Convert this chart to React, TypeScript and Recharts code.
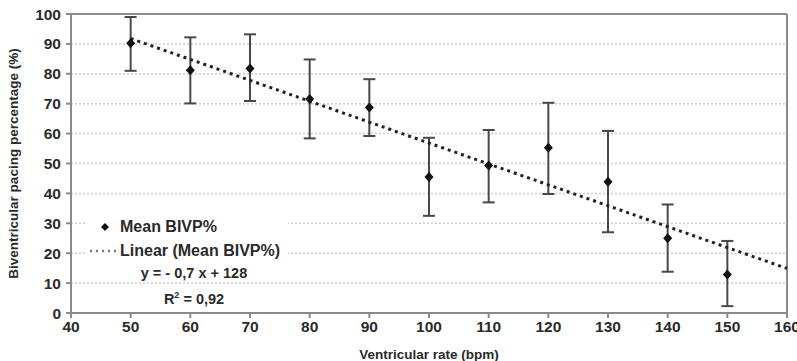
import React from 'react';
import { ComposedChart, Scatter, ErrorBar, XAxis, YAxis, CartesianGrid, ReferenceLine, Label } from 'recharts';

const rates = [50, 60, 70, 80, 90, 100, 110, 120, 130, 140, 150];
const meanBivp = [90.2, 81.2, 81.8, 71.6, 68.7, 45.5, 49.3, 55.3, 43.9, 25, 12.9];
const lowerBound = [81, 70.1, 70.9, 58.4, 59.2, 32.5, 37, 39.8, 27, 13.8, 2.3];
const upperBound = [99, 92.2, 93.2, 84.8, 78.2, 58.6, 61.2, 70.3, 60.9, 36.3, 24.1];

// trend line endpoints
const trendRates = [50, 160];
const trendValues = [91.8, 14.9];

const xTicks = [40, 50, 60, 70, 80, 90, 100, 110, 120, 130, 140, 150, 160];
const yTicks = [0, 10, 20, 30, 40, 50, 60, 70, 80, 90, 100];

const points = rates.map((r, i) => ({
    rate: r,
    mean: meanBivp[i],
    err: [meanBivp[i] - lowerBound[i], upperBound[i] - meanBivp[i]],
}));
const trend = trendRates.map((r, i) => ({ rate: r, mean: trendValues[i] }));

const FONT = '"Liberation Sans", Arial, sans-serif';
const AXIS = '#8a8a8a';
const TEXT = '#2a2a2a';

const Diamond = (props: any) => {
    const { cx, cy } = props;
    if (cx == null || cy == null) return <g />;
    return <polygon points={`${cx},${cy - 5} ${cx + 4.5},${cy} ${cx},${cy + 5} ${cx - 4.5},${cy}`} fill="#111" />;
};

const tickStyle = { fontSize: 15.5, fontWeight: 700, fill: TEXT, fontFamily: FONT };

export default function App() {
    return (
        <div style={{ position: 'absolute', left: 0, top: 0, width: 797, height: 361, background: '#fff', fontFamily: FONT }}>
            <ComposedChart width={797} height={361} margin={{ top: 14, right: 10, left: 11, bottom: 0 }}>
                <CartesianGrid vertical={false} stroke="#cccccc" strokeDasharray="2 2" strokeWidth={1.5} />
                <XAxis
                    dataKey="rate"
                    type="number"
                    domain={[40, 160]}
                    ticks={xTicks}
                    interval={0}
                    height={48}
                    stroke={AXIS}
                    strokeWidth={2}
                    tickSize={5}
                    tickMargin={3}
                    tick={tickStyle}
                >
                    <Label value="Ventricular rate (bpm)" position="insideBottom" offset={2} style={{ fontSize: 13.5, fontWeight: 700, fill: TEXT, fontFamily: FONT }} />
                </XAxis>
                <YAxis
                    dataKey="mean"
                    type="number"
                    domain={[0, 100]}
                    ticks={yTicks}
                    interval={0}
                    width={60}
                    stroke={AXIS}
                    strokeWidth={2}
                    tickSize={5}
                    tickMargin={5}
                    tick={tickStyle}
                >
                    <Label value="Biventricular pacing percentage (%)" angle={-90} position="insideLeft" offset={2} style={{ textAnchor: 'middle', fontSize: 13.5, fontWeight: 700, fill: TEXT, fontFamily: FONT }} />
                </YAxis>
                <ReferenceLine y={100} stroke={AXIS} strokeWidth={2} />
                <ReferenceLine x={160} stroke={AXIS} strokeWidth={2} />
                <Scatter
                    data={trend}
                    line={{ stroke: '#222', strokeWidth: 3, strokeDasharray: '3 4' }}
                    shape={() => <g />}
                    isAnimationActive={false}
                />
                <Scatter data={points} shape={<Diamond />} isAnimationActive={false}>
                    <ErrorBar dataKey="err" direction="y" width={6} stroke="#484848" strokeWidth={2} />
                </Scatter>
            </ComposedChart>
            <div style={{ position: 'absolute', left: 86, top: 216, width: 202, height: 46, background: '#fff' }}>
                <div style={{ position: 'absolute', left: 14, top: 2, display: 'flex', alignItems: 'center' }}>
                    <svg width={10} height={10}><polygon points="5,1 9,5 5,9 1,5" fill="#111" /></svg>
                    <span style={{ marginLeft: 10, fontSize: 16, fontWeight: 700, color: TEXT }}>Mean BIVP%</span>
                </div>
                <div style={{ position: 'absolute', left: 4, top: 26, display: 'flex', alignItems: 'center' }}>
                    <svg width={26} height={4}><line x1={0} y1={2} x2={26} y2={2} stroke="#777" strokeWidth={2.5} strokeDasharray="2 4" /></svg>
                    <span style={{ marginLeft: 4, fontSize: 16, fontWeight: 700, color: TEXT }}>Linear (Mean BIVP%)</span>
                </div>
            </div>
            <div style={{ position: 'absolute', left: 128, top: 262, width: 132, textAlign: 'center', fontSize: 14.5, fontWeight: 700, color: TEXT, lineHeight: '22px' }}>
                <div>y = - 0,7 x + 128</div>
                <div>R<sup style={{ fontSize: 9 }}>2</sup> = 0,92</div>
            </div>
        </div>
    );
}
